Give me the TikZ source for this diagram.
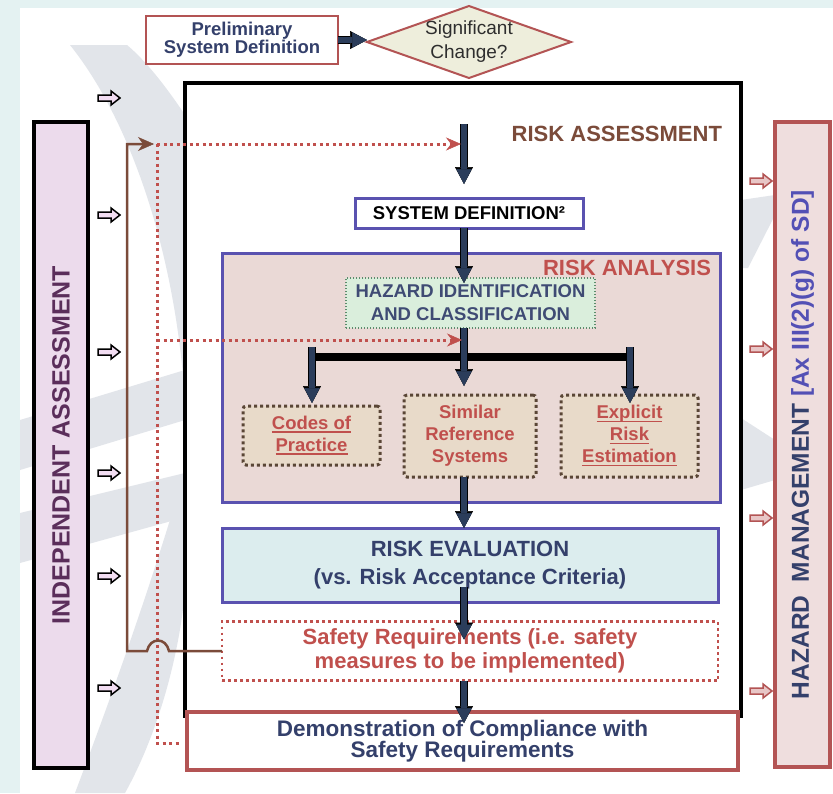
\documentclass[tikz,border=0pt]{standalone}
\usepackage{fontspec}
\setmainfont{Liberation Sans}
\usetikzlibrary{arrows.meta,shapes.geometric,calc}
\definecolor{bgcyan}{HTML}{E4F2F2}
\definecolor{wm}{HTML}{E2E5EA}
\definecolor{redb}{HTML}{B35454}
\definecolor{dkblue}{HTML}{34406B}
\definecolor{navy}{HTML}{2B3D5B}
\definecolor{blueb}{HTML}{5A52B0}
\definecolor{anafill}{HTML}{EAD9D6}
\definecolor{hazfill}{HTML}{DAEEDC}
\definecolor{hazb}{HTML}{5C8C6C}
\definecolor{hazt}{HTML}{3F4B74}
\definecolor{cpfill}{HTML}{E8DAC9}
\definecolor{cpb}{HTML}{5A4636}
\definecolor{redt}{HTML}{C0504D}
\definecolor{evfill}{HTML}{DCEDEE}
\definecolor{brownl}{HTML}{7B4B3A}
\definecolor{purfill}{HTML}{ECDBEC}
\definecolor{purt}{HTML}{5B2E5B}
\definecolor{hmfill}{HTML}{EFDEDE}
\definecolor{hmblue}{HTML}{5350B5}
\definecolor{diafill}{HTML}{EEEEDC}
\definecolor{sigtext}{HTML}{2E2E2E}
\definecolor{ltarr}{HTML}{F2DDF2}
\definecolor{rtarr}{HTML}{E8C6C6}
\newcommand\fsz[2]{\fontsize{#1}{#2}\selectfont}
\newcommand\ulx[1]{\leavevmode\setbox0\hbox{#1}\rlap{\rule[-3.5pt]{\wd0}{1.6pt}}\box0}
\newcommand\navyarrow[3][]{%
  \draw[navyout,#1] #2 -- #3;
  \draw[navyin,#1] #2 -- #3;}
\begin{document}
\begin{tikzpicture}[x=1pt,y=-1pt,
  every node/.style={inner sep=0pt, outer sep=0pt, align=center},
  prelimbox/.style={draw=redb, line width=2pt, fill=white, minimum width=192, minimum height=48, text=dkblue, font=\bfseries\fsz{18.5}{17}},
  sigdia/.style={diamond, draw=redb, line width=2pt, fill=diafill, minimum width=204, minimum height=72},
  mainframe/.style={draw=black, line width=3.5pt, fill=white},
  bluebox/.style={draw=blueb, line width=3pt},
  cpbox/.style={draw=cpb, fill=cpfill, line width=3pt, dash pattern=on 3pt off 3pt, rounded corners=3pt, text=redt, font=\bfseries\fsz{18.5}{22}},
  navyout/.style={draw=black, line width=8.5pt, -{Triangle[length=17pt,width=18pt,line width=0.5pt]}},
  navyin/.style={draw=navy, line width=6.5pt, -{Triangle[length=15pt,width=15.5pt,line width=0.5pt]}},
  reddot/.style={draw=redt, line width=3pt, dash pattern=on 3pt off 3.5pt},
  redtip/.style={-{Stealth[length=15pt,width=13pt,inset=5pt,line width=0.5pt]}},
  brownline/.style={draw=brownl, line width=2.5pt},
  smallL/.style={draw=black, line width=1.5pt, fill=ltarr},
  smallR/.style={draw=redb, line width=1.5pt, fill=rtarr}
]
\useasboundingbox (0,0) rectangle (833,793);
\fill[bgcyan] (0,0) rectangle (833,793);
\fill[white] (20,8) rectangle (833,793);
% watermark
\fill[wm] (70,45) .. controls (130,120) and (175,250) .. (185,400) -- (185,115) .. controls (165,85) and (145,60) .. (127,45) -- cycle;
\fill[wm] (185,470) .. controls (150,590) and (110,700) .. (75,793) -- (125,793) .. controls (160,730) and (180,650) .. (185,590) -- cycle;
\fill[wm] (20,420) -- (185,370) -- (185,420) -- (20,470) -- cycle;
\fill[wm] (20,513) -- (185,473) -- (175,520) -- (20,563) -- cycle;
\fill[wm] (741,200) -- (775,195) -- (775,215) -- (748,268) -- (741,268) -- cycle;
\fill[wm] (741,418) -- (775,440) -- (775,480) -- (741,490) -- cycle;

% nodes
\node[prelimbox] (prelim) at (242,40) {Preliminary\\System Definition};
\node[sigdia] (sig) at (469,42) {};
\node[text=sigtext, font=\fsz{19}{24}] (sigtxt) at (469,42) {Significant\\Change?};
\node[mainframe, minimum width=556, minimum height=633] (main) at (463,399.5) {};
\node[anchor=east, text=brownl, font=\bfseries\fsz{22}{26}] (ratitle) at (722,134) {RISK ASSESSMENT};
\node[bluebox, fill=white, minimum width=228, minimum height=30, font=\bfseries\fsz{18.5}{22}] (sysdef) at (469,213) {SYSTEM DEFINITION²};
\node[bluebox, fill=anafill, minimum width=498, minimum height=249] (analysis) at (471,377.5) {};
\node[anchor=east, text=redt, font=\bfseries\fsz{22}{26}] (anatitle) at (711,268) {RISK ANALYSIS};
\node[draw=hazb, fill=hazfill, line width=1.2pt, dash pattern=on 1.2pt off 1.8pt, minimum width=249, minimum height=50, text=hazt, font=\bfseries\fsz{18.5}{23}] (hazard) at (470.5,303) {HAZARD IDENTIFICATION\\AND CLASSIFICATION};
\node[cpbox, minimum width=137, minimum height=59] (codes) at (311.5,435.5) {\ulx{Codes of}\\\ulx{Practice}};
\node[cpbox, minimum width=132, minimum height=82] (similar) at (470,436) {Similar\\Reference\\Systems};
\node[cpbox, minimum width=137, minimum height=82] (explicit) at (629.5,436) {\ulx{Explicit}\\\ulx{Risk}\\\ulx{Estimation}};
\node[bluebox, fill=evfill, minimum width=496, minimum height=74, text=dkblue, font=\bfseries\fsz{22}{28}] (evaluation) at (470,565) {RISK EVALUATION\\(vs. Risk Acceptance Criteria)};
\node[draw=redt, line width=2.6pt, dash pattern=on 2.6pt off 3.4pt, fill=white, minimum width=496, minimum height=59, text=redt, font=\bfseries\fsz{22}{24}] (safety) at (470,651) {Safety Requirements (i.e. safety\\measures to be implemented)};
\node[draw=redb, line width=4.5pt, fill=white, minimum width=551, minimum height=58, text=dkblue, font=\bfseries\fsz{22.5}{21}] (demo) at (462.5,741) {Demonstration of Compliance with\\Safety Requirements};
\node[draw=black, line width=3.5pt, fill=purfill, rotate=90, minimum width=646, minimum height=54, text=purt, font=\bfseries\fsz{25}{30}] (indep) at (61,445) {INDEPENDENT ASSESSMENT};
\node[draw=redb, line width=4pt, fill=hmfill, rotate=90, minimum width=645, minimum height=55, text=dkblue, font=\bfseries\fsz{24.5}{30}] (hazman) at (802.5,444.5) {HAZARD\ \ MANAGEMENT \textcolor{hmblue}{[Ax III(2)(g) of SD]}};

% coordinates
\coordinate (ax) at (464,0);
\coordinate (a1s) at (464,124);
\coordinate (sl) at (312,347);
\coordinate (sr) at (630,347);
\coordinate (bl) at (309,357);
\coordinate (br) at (633,357);
\coordinate (dtop) at (157,144);
\coordinate (dmid) at (157,340);
\coordinate (dbot) at (157,743);
\coordinate (dend) at (181,743);
\coordinate (tin) at (461,144);
\coordinate (hin) at (462,340);

% black bar
\draw[line width=8pt] (bl) -- (br);

% navy arrows
\navyarrow{(prelim.east)}{(prelim.east -| sig.west)}
\navyarrow[shorten >=14pt]{(a1s)}{(sysdef.north -| ax)}
\navyarrow[shorten >=-5pt]{(sysdef.south -| ax)}{(hazard.north -| ax)}
\navyarrow[shorten >=9pt]{(hazard.south -| ax)}{(similar.north -| ax)}
\navyarrow[shorten >=3pt]{(sl)}{(codes.north -| sl)}
\navyarrow[shorten >=-8pt]{(sr)}{(explicit.north -| sr)}
\navyarrow{(similar.south -| ax)}{(evaluation.north -| ax)}
\navyarrow[shorten <=-15pt, shorten >=-18pt]{(evaluation.south -| ax)}{(safety.north -| ax)}
\navyarrow[shorten >=-11pt]{(safety.south -| ax)}{(demo.north -| ax)}

% dotted red lines
\draw[reddot] (dtop) -- (dbot) -- (dend);
\draw[reddot, redtip] (dtop) -- (tin);
\draw[reddot, redtip] (dmid) -- (hin);

% brown feedback line
\draw[brownline, -{Stealth[length=16pt,width=14pt,inset=5pt,line width=0.5pt]}] (safety.west) -- (169,651) .. controls (166,637) and (150,637) .. (147,651) -- (127,651) -- (127,144) -- (154,144);

% small arrows
\foreach \yy in {98,215,352,473,576,688}{
  \draw[smallL] (98,\yy-3) -- (111,\yy-3) -- (111,\yy-7) -- (120,\yy) -- (111,\yy+7) -- (111,\yy+3) -- (98,\yy+3) -- cycle;}
\foreach \yy in {181,349,518,691}{
  \draw[smallR] (750,\yy-3) -- (763,\yy-3) -- (763,\yy-7) -- (772,\yy) -- (763,\yy+7) -- (763,\yy+3) -- (750,\yy+3) -- cycle;}
\end{tikzpicture}
\end{document}
